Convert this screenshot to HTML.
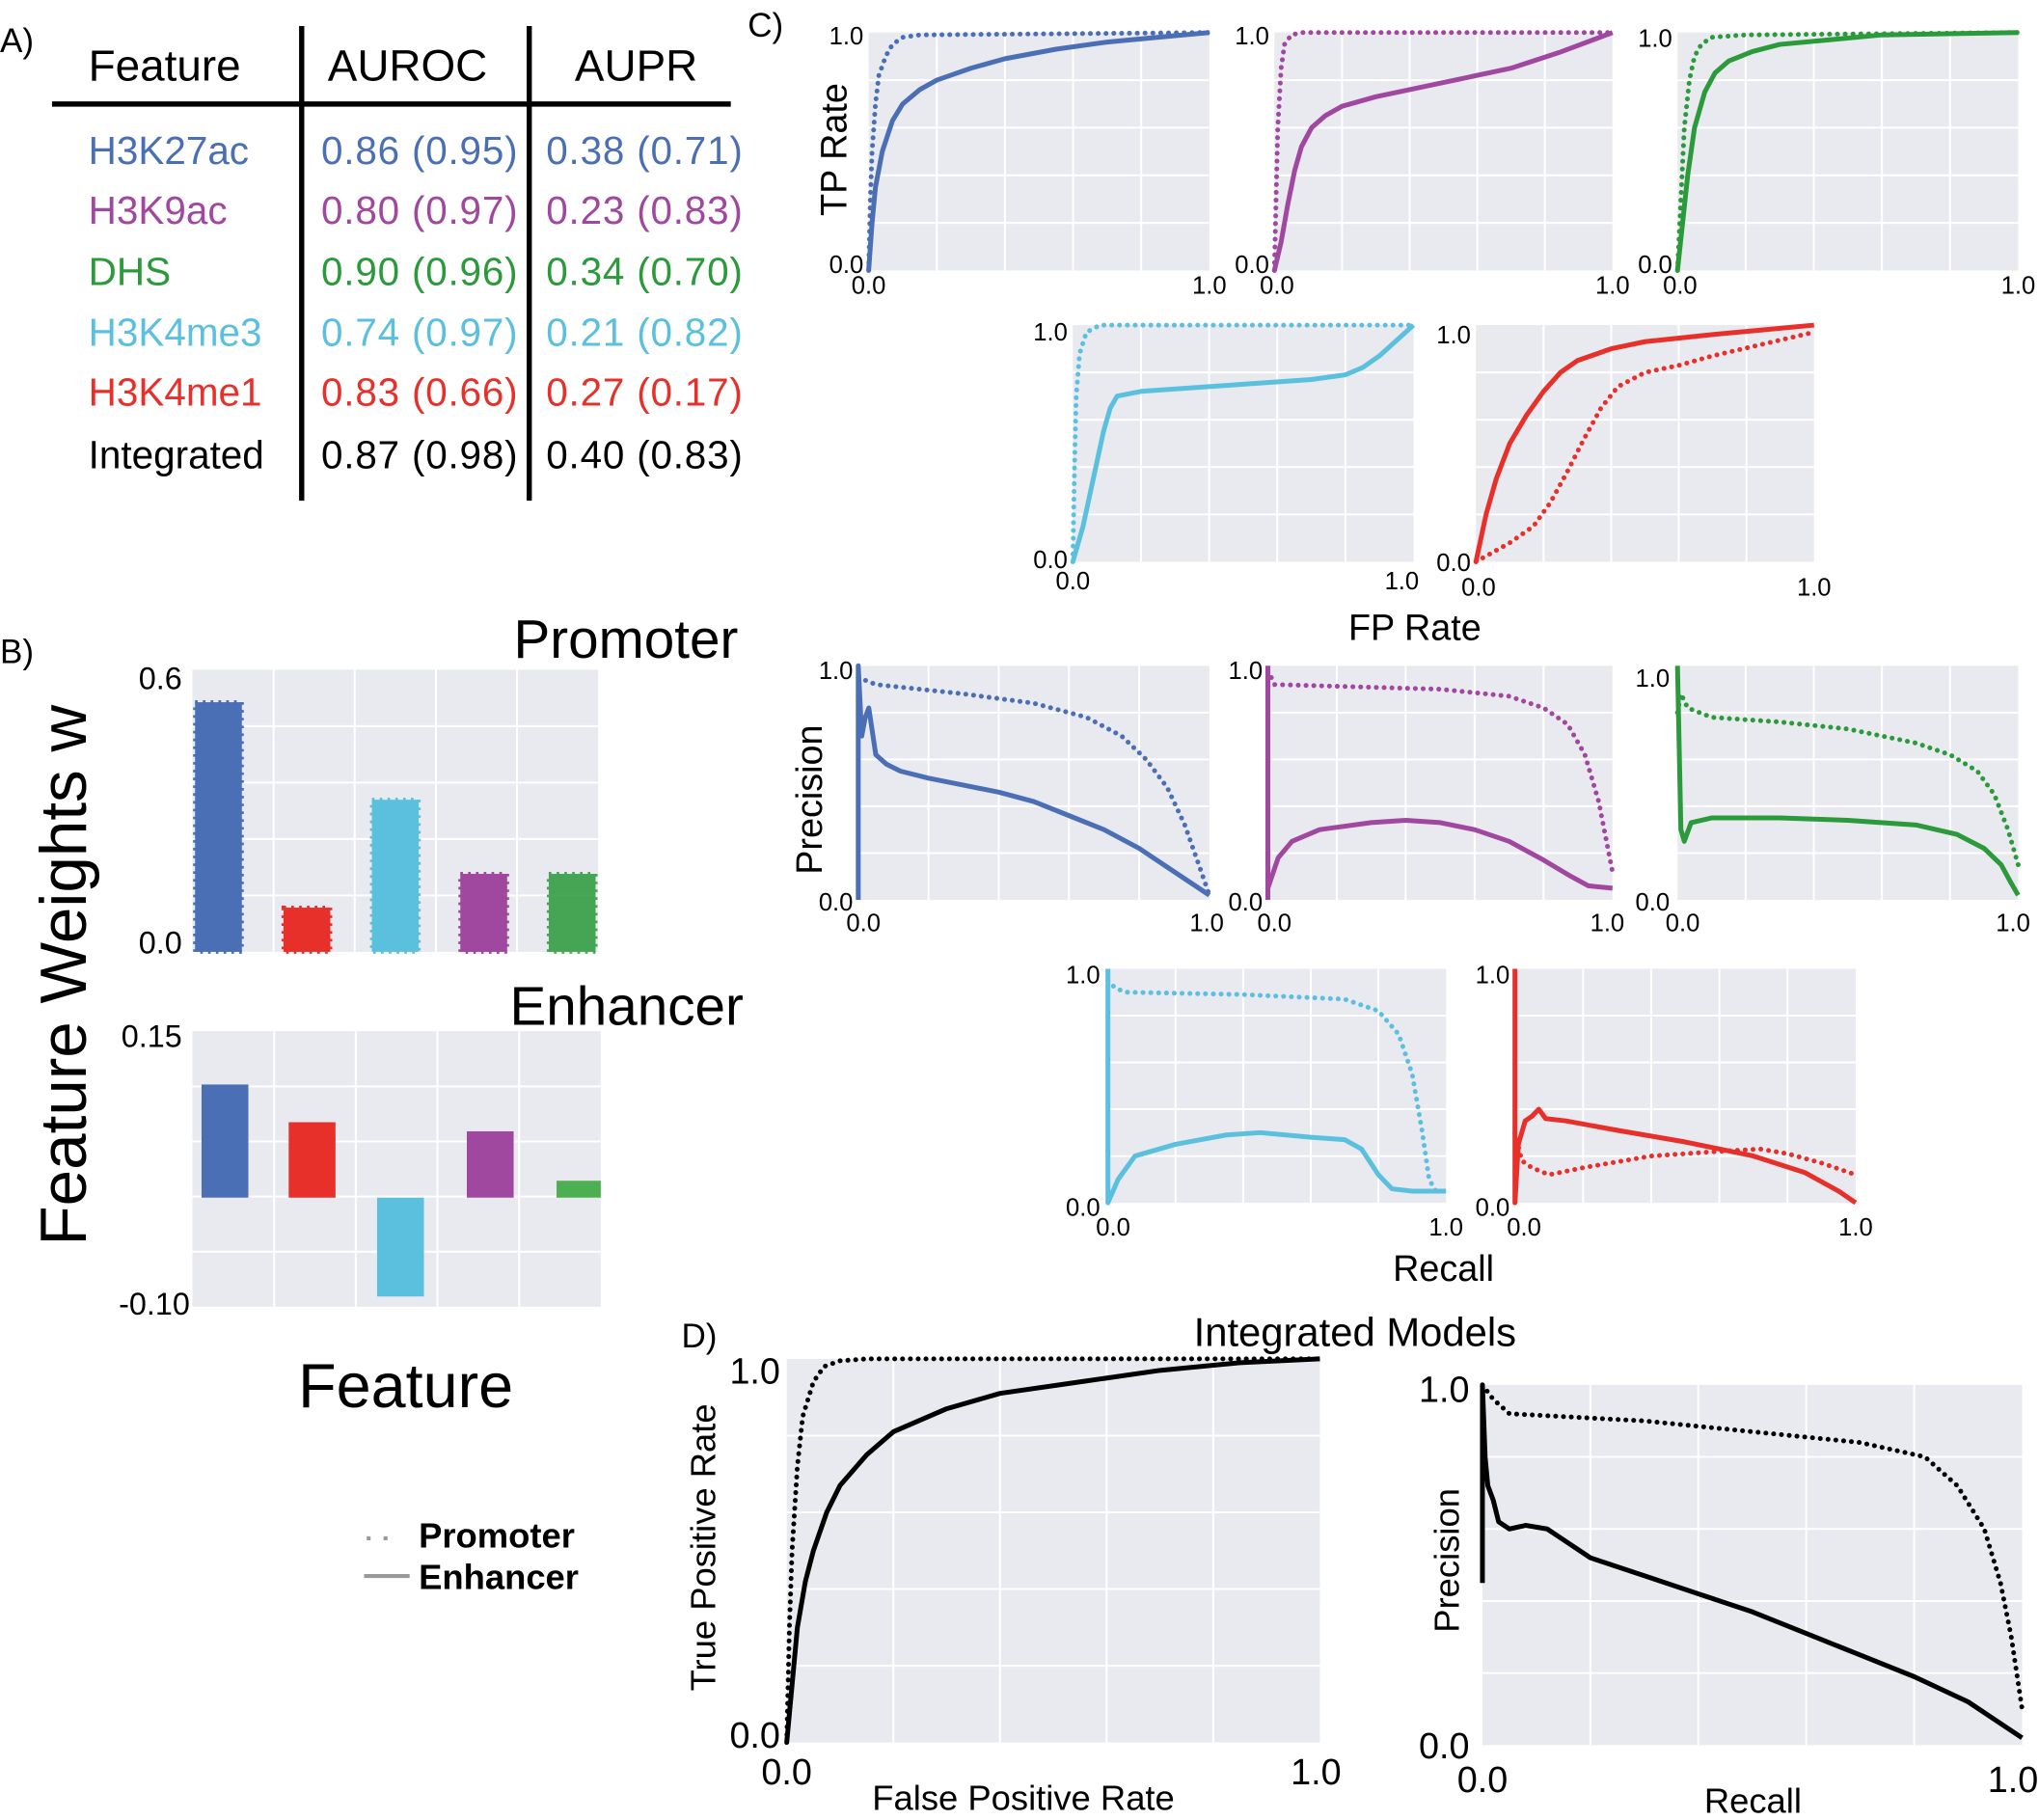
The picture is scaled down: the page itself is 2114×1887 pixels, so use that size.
<!DOCTYPE html>
<html><head><meta charset="utf-8"><style>
html,body{margin:0;padding:0;background:#fff}
svg{display:block}
text{font-family:"Liberation Sans",sans-serif}
.g line{stroke:#fff;stroke-width:2;vector-effect:non-scaling-stroke}
.s{fill:none;stroke-width:5;vector-effect:non-scaling-stroke;stroke-linejoin:round}
.d{fill:none;stroke-width:5;stroke-dasharray:0.1 8;stroke-linecap:round;vector-effect:non-scaling-stroke}
.t{font-size:19px}
</style></head><body>
<svg width="2114" height="1887" viewBox="0 0 1568 1399.6" xmlns="http://www.w3.org/2000/svg">
<defs>
<g id="grid" class="g">
<rect x="0" y="0" width="1" height="1" fill="#e9e9f0"/>
<line x1="0.2" y1="0" x2="0.2" y2="1"/><line x1="0.4" y1="0" x2="0.4" y2="1"/><line x1="0.6" y1="0" x2="0.6" y2="1"/><line x1="0.8" y1="0" x2="0.8" y2="1"/>
<line x1="0" y1="0.2" x2="1" y2="0.2"/><line x1="0" y1="0.4" x2="1" y2="0.4"/><line x1="0" y1="0.6" x2="1" y2="0.6"/><line x1="0" y1="0.8" x2="1" y2="0.8"/>
</g>
</defs>

<!-- Panel A -->
<text x="0" y="40" font-size="26">A)</text>
<text x="68" y="62" font-size="34">Feature</text>
<text x="252" y="62" font-size="34">AUROC</text>
<text x="442" y="62" font-size="34">AUPR</text>
<line x1="40" y1="80" x2="562" y2="80" stroke="#000" stroke-width="4"/>
<line x1="232" y1="20" x2="232" y2="385" stroke="#000" stroke-width="4"/>
<line x1="407" y1="20" x2="407" y2="385" stroke="#000" stroke-width="4"/>
<g font-size="30">
<text x="68" y="126" fill="#4a6fb5">H3K27ac</text><text x="247" y="126" fill="#4a6fb5" textLength="151">0.86 (0.95)</text><text x="420" y="126" fill="#4a6fb5" textLength="151">0.38 (0.71)</text>
<text x="68" y="172" fill="#a0479f">H3K9ac</text><text x="247" y="172" fill="#a0479f" textLength="151">0.80 (0.97)</text><text x="420" y="172" fill="#a0479f" textLength="151">0.23 (0.83)</text>
<text x="68" y="219" fill="#2a9a3a">DHS</text><text x="247" y="219" fill="#2a9a3a" textLength="151">0.90 (0.96)</text><text x="420" y="219" fill="#2a9a3a" textLength="151">0.34 (0.70)</text>
<text x="68" y="266" fill="#5bc0de">H3K4me3</text><text x="247" y="266" fill="#5bc0de" textLength="151">0.74 (0.97)</text><text x="420" y="266" fill="#5bc0de" textLength="151">0.21 (0.82)</text>
<text x="68" y="312" fill="#e8302a">H3K4me1</text><text x="247" y="312" fill="#e8302a" textLength="151">0.83 (0.66)</text><text x="420" y="312" fill="#e8302a" textLength="151">0.27 (0.17)</text>
<text x="68" y="360" fill="#000">Integrated</text><text x="247" y="360" fill="#000" textLength="151">0.87 (0.98)</text><text x="420" y="360" fill="#000" textLength="151">0.40 (0.83)</text>
</g>

<!-- Panel B -->
<text x="0" y="510" font-size="26">B)</text>
<text x="395" y="506" font-size="42">Promoter</text>
<g transform="matrix(312,0,0,-217,148,732)"><use href="#grid"/></g>
<text x="140" y="530" font-size="24" text-anchor="end">0.6</text>
<text x="140" y="733" font-size="24" text-anchor="end">0.0</text>
<g stroke-dasharray="2 4" stroke-width="3">
<rect x="150" y="540" width="36" height="192" fill="#4a6fb5" stroke="#4a6fb5"/>
<rect x="218" y="698" width="36" height="34" fill="#e8302a" stroke="#e8302a"/>
<rect x="286" y="615" width="36" height="117" fill="#5bc0de" stroke="#5bc0de"/>
<rect x="354" y="672" width="36" height="60" fill="#a0479f" stroke="#a0479f"/>
<rect x="422" y="672" width="36" height="60" fill="#2a9a3a" stroke="#2a9a3a" opacity="0.85"/>
</g>
<text x="392" y="788" font-size="42">Enhancer</text>
<g transform="matrix(314,0,0,-212,148,1005)"><use href="#grid"/></g>
<text x="140" y="805" font-size="24" text-anchor="end">0.15</text>
<text x="146" y="1011" font-size="24" text-anchor="end">-0.10</text>
<rect x="155" y="834" width="36" height="87" fill="#4a6fb5"/>
<rect x="222" y="863" width="36" height="58" fill="#e8302a"/>
<rect x="290" y="921" width="36" height="76" fill="#5bc0de"/>
<rect x="359" y="870" width="36" height="51" fill="#a0479f"/>
<rect x="428" y="908" width="34" height="13" fill="#4caf50"/>
<text transform="translate(66,750) rotate(-90)" font-size="50" text-anchor="middle">Feature Weights w</text>
<text x="312" y="1082" font-size="48" text-anchor="middle">Feature</text>
<line x1="282" y1="1183" x2="305" y2="1183" stroke="#999" stroke-width="3" stroke-dasharray="3 10"/>
<text x="322" y="1190" font-size="27" font-weight="bold">Promoter</text>
<line x1="280" y1="1212" x2="315" y2="1212" stroke="#999" stroke-width="3"/>
<text x="322" y="1222" font-size="27" font-weight="bold">Enhancer</text>

<!-- Panel C ROC -->
<text x="575" y="28" font-size="26">C)</text>
<g transform="matrix(262,0,0,-183,668,208)"><use href="#grid"/>
<path class="s" stroke="#4a6fb5" d="M0,0 L0.01,0.2 0.02,0.35 0.04,0.5 0.07,0.63 0.1,0.7 0.15,0.76 0.2,0.8 0.3,0.85 0.4,0.89 0.55,0.93 0.7,0.96 0.85,0.98 1,1"/>
<path class="d" stroke="#4a6fb5" d="M0,0 L0.005,0.3 0.01,0.5 0.02,0.7 0.03,0.82 0.05,0.9 0.07,0.95 0.1,0.98 0.15,0.99 1,1"/></g>
<g transform="matrix(260,0,0,-183,980,208)"><use href="#grid"/>
<path class="s" stroke="#a0479f" d="M0,0 L0.02,0.12 0.04,0.28 0.06,0.42 0.08,0.52 0.11,0.6 0.15,0.65 0.2,0.69 0.3,0.73 0.5,0.79 0.7,0.85 0.85,0.92 1,1"/>
<path class="d" stroke="#a0479f" d="M0,0 L0.005,0.3 0.01,0.6 0.02,0.85 0.03,0.95 0.05,0.99 0.08,1 1,1"/></g>
<g transform="matrix(262,0,0,-183,1290,208)"><use href="#grid"/>
<path class="s" stroke="#2a9a3a" d="M0,0 L0.015,0.2 0.03,0.4 0.05,0.6 0.08,0.75 0.11,0.83 0.15,0.88 0.22,0.92 0.3,0.95 0.45,0.97 0.6,0.99 1,1"/>
<path class="d" stroke="#2a9a3a" d="M0,0 L0.01,0.3 0.02,0.6 0.035,0.8 0.05,0.9 0.07,0.95 0.1,0.98 0.2,0.99 1,1"/></g>
<g transform="matrix(262,0,0,-182,825,432)"><use href="#grid"/>
<path class="s" stroke="#5bc0de" d="M0,0 L0.03,0.15 0.06,0.35 0.09,0.55 0.11,0.65 0.13,0.7 0.2,0.72 0.5,0.75 0.7,0.77 0.8,0.79 0.85,0.82 0.9,0.87 1,1"/>
<path class="d" stroke="#5bc0de" d="M0,0 L0.005,0.4 0.01,0.7 0.02,0.88 0.04,0.97 0.08,1 1,1"/></g>
<g transform="matrix(260,0,0,-182,1135,432)"><use href="#grid"/>
<path class="s" stroke="#e8302a" d="M0,0 L0.03,0.2 0.06,0.35 0.1,0.5 0.15,0.62 0.2,0.72 0.25,0.8 0.3,0.85 0.4,0.9 0.5,0.93 0.7,0.96 0.85,0.98 1,1"/>
<path class="d" stroke="#e8302a" d="M0,0 L0.1,0.08 0.17,0.15 0.22,0.25 0.27,0.38 0.32,0.52 0.37,0.65 0.42,0.74 0.5,0.8 0.6,0.83 0.7,0.87 0.85,0.92 1,0.97"/></g>
<g class="t">
<text x="664" y="34" text-anchor="end">1.0</text><text x="664" y="210" text-anchor="end">0.0</text><text x="668" y="226" text-anchor="middle">0.0</text><text x="930" y="226" text-anchor="middle">1.0</text>
<text x="976" y="34" text-anchor="end">1.0</text><text x="976" y="210" text-anchor="end">0.0</text><text x="982" y="226" text-anchor="middle">0.0</text><text x="1240" y="226" text-anchor="middle">1.0</text>
<text x="1286" y="36" text-anchor="end">1.0</text><text x="1286" y="210" text-anchor="end">0.0</text><text x="1292" y="226" text-anchor="middle">0.0</text><text x="1552" y="226" text-anchor="middle">1.0</text>
<text x="821" y="262" text-anchor="end">1.0</text><text x="821" y="437" text-anchor="end">0.0</text><text x="825" y="453" text-anchor="middle">0.0</text><text x="1078" y="453" text-anchor="middle">1.0</text>
<text x="1131" y="264" text-anchor="end">1.0</text><text x="1131" y="439" text-anchor="end">0.0</text><text x="1137" y="458" text-anchor="middle">0.0</text><text x="1395" y="458" text-anchor="middle">1.0</text>
</g>
<text transform="translate(651,115) rotate(-90)" font-size="28" text-anchor="middle">TP Rate</text>
<text x="1088" y="492" font-size="28" text-anchor="middle">FP Rate</text>

<!-- Panel C PR -->
<g transform="matrix(270,0,0,-180,660,692)"><use href="#grid"/>
<path class="s" stroke="#4a6fb5" d="M0,0 L0,1 0.01,0.7 0.02,0.78 0.03,0.82 0.04,0.72 0.05,0.62 0.08,0.58 0.12,0.55 0.2,0.52 0.3,0.49 0.4,0.46 0.5,0.42 0.6,0.36 0.7,0.3 0.8,0.22 0.9,0.12 1,0.02"/>
<path class="d" stroke="#4a6fb5" d="M0,0.95 L0.05,0.92 0.3,0.88 0.5,0.84 0.65,0.78 0.75,0.7 0.82,0.6 0.88,0.48 0.93,0.32 0.97,0.15 1,0.02"/></g>
<g transform="matrix(265,0,0,-180,975,692)"><use href="#grid"/>
<path class="s" stroke="#a0479f" d="M0,0 L0,1 M0,0.05 L0.03,0.18 0.07,0.25 0.15,0.3 0.3,0.33 0.4,0.34 0.5,0.33 0.6,0.3 0.7,0.25 0.8,0.17 0.88,0.1 0.93,0.06 1,0.05"/>
<path class="d" stroke="#a0479f" d="M0,0.98 L0.02,0.92 0.5,0.9 0.7,0.87 0.8,0.82 0.87,0.75 0.92,0.62 0.96,0.42 1,0.12"/></g>
<g transform="matrix(262,0,0,-180,1290,692)"><use href="#grid"/>
<path class="s" stroke="#2a9a3a" d="M0,1 L0.01,0.3 0.02,0.25 0.04,0.33 0.1,0.35 0.3,0.35 0.5,0.34 0.7,0.32 0.82,0.28 0.9,0.22 0.95,0.15 0.98,0.07 1,0.02"/>
<path class="d" stroke="#2a9a3a" d="M0,0.8 L0.01,0.88 0.03,0.82 0.1,0.78 0.3,0.76 0.5,0.73 0.7,0.67 0.8,0.62 0.88,0.55 0.93,0.45 0.97,0.3 1,0.15"/></g>
<g transform="matrix(260,0,0,-180,852,925)"><use href="#grid"/>
<path class="s" stroke="#5bc0de" d="M0,1 L0,0 0.03,0.1 0.08,0.2 0.2,0.25 0.35,0.29 0.45,0.3 0.6,0.28 0.7,0.27 0.75,0.23 0.8,0.12 0.84,0.06 0.9,0.05 1,0.05"/>
<path class="d" stroke="#5bc0de" d="M0,0.95 L0.02,0.92 0.05,0.9 0.4,0.89 0.7,0.87 0.8,0.82 0.86,0.72 0.9,0.55 0.93,0.3 0.95,0.1 0.97,0.05"/></g>
<g transform="matrix(262,0,0,-180,1165,925)"><use href="#grid"/>
<path class="s" stroke="#e8302a" d="M0,1 L0,0 0.01,0.25 0.03,0.35 0.05,0.37 0.07,0.4 0.09,0.36 0.15,0.35 0.3,0.31 0.5,0.26 0.7,0.2 0.85,0.13 0.95,0.05 1,0"/>
<path class="d" stroke="#e8302a" d="M0,0.3 L0.02,0.18 0.05,0.15 0.1,0.12 0.2,0.15 0.4,0.2 0.6,0.22 0.72,0.23 0.8,0.21 0.9,0.17 1,0.12"/></g>
<g class="t">
<text x="656" y="522" text-anchor="end">1.0</text><text x="656" y="700" text-anchor="end">0.0</text><text x="664" y="716" text-anchor="middle">0.0</text><text x="928" y="716" text-anchor="middle">1.0</text>
<text x="971" y="522" text-anchor="end">1.0</text><text x="971" y="700" text-anchor="end">0.0</text><text x="980" y="716" text-anchor="middle">0.0</text><text x="1236" y="716" text-anchor="middle">1.0</text>
<text x="1284" y="528" text-anchor="end">1.0</text><text x="1284" y="700" text-anchor="end">0.0</text><text x="1294" y="716" text-anchor="middle">0.0</text><text x="1548" y="716" text-anchor="middle">1.0</text>
<text x="846" y="756" text-anchor="end">1.0</text><text x="846" y="935" text-anchor="end">0.0</text><text x="856" y="950" text-anchor="middle">0.0</text><text x="1112" y="950" text-anchor="middle">1.0</text>
<text x="1161" y="756" text-anchor="end">1.0</text><text x="1161" y="935" text-anchor="end">0.0</text><text x="1172" y="950" text-anchor="middle">0.0</text><text x="1427" y="950" text-anchor="middle">1.0</text>
</g>
<text transform="translate(632,615) rotate(-90)" font-size="28" text-anchor="middle">Precision</text>
<text x="1110" y="985" font-size="28" text-anchor="middle">Recall</text>

<!-- Panel D -->
<text x="524" y="1036" font-size="26">D)</text>
<text x="1042" y="1035" font-size="31" text-anchor="middle">Integrated Models</text>
<g transform="matrix(410,0,0,-295,605,1340)"><use href="#grid"/>
<path class="s" stroke="#000" d="M0,0 L0.01,0.15 0.02,0.3 0.035,0.42 0.05,0.5 0.075,0.6 0.1,0.67 0.15,0.75 0.2,0.81 0.3,0.87 0.4,0.91 0.55,0.94 0.7,0.97 0.85,0.99 1,1"/>
<path class="d" stroke="#000" d="M0,0 L0.005,0.3 0.01,0.5 0.02,0.72 0.03,0.85 0.05,0.94 0.07,0.98 0.1,0.995 0.15,1 1,1"/></g>
<g transform="matrix(415,0,0,-277,1140,1342)"><use href="#grid"/>
<path class="s" stroke="#000" d="M0,0.45 L0,1 0.005,0.8 0.01,0.72 0.02,0.68 0.03,0.62 0.05,0.6 0.08,0.61 0.12,0.6 0.15,0.57 0.2,0.52 0.3,0.47 0.4,0.42 0.5,0.37 0.6,0.31 0.7,0.25 0.8,0.19 0.9,0.12 0.95,0.07 1,0.02"/>
<path class="d" stroke="#000" d="M0,1 L0.02,0.96 0.05,0.92 0.3,0.9 0.5,0.87 0.7,0.84 0.82,0.8 0.88,0.72 0.93,0.6 0.96,0.45 0.98,0.3 1,0.1"/></g>
<g font-size="28">
<text x="600" y="1064" text-anchor="end">1.0</text><text x="600" y="1344" text-anchor="end">0.0</text>
<text x="605" y="1372" text-anchor="middle">0.0</text><text x="1012" y="1372" text-anchor="middle">1.0</text>
<text x="1130" y="1078" text-anchor="end">1.0</text><text x="1130" y="1352" text-anchor="end">0.0</text>
<text x="1140" y="1378" text-anchor="middle">0.0</text><text x="1548" y="1378" text-anchor="middle">1.0</text>
</g>
<text x="787" y="1392" font-size="27" text-anchor="middle">False Positive Rate</text>
<text x="1348" y="1394" font-size="27" text-anchor="middle">Recall</text>
<text transform="translate(550,1190) rotate(-90)" font-size="27" text-anchor="middle">True Positive Rate</text>
<text transform="translate(1122,1200) rotate(-90)" font-size="27" text-anchor="middle">Precision</text>
</svg>
</body></html>
